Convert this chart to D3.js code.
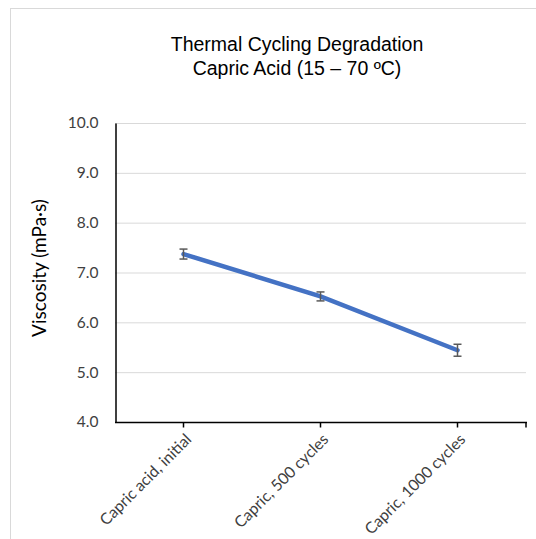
<!DOCTYPE html>
<html><head><meta charset="utf-8">
<script src="https://cdn.jsdelivr.net/npm/d3@7"></script>
<style>body{margin:0;background:#fff}svg{display:block}</style>
</head><body>
<script>
const categories = ["Capric acid, initial", "Capric, 500 cycles", "Capric, 1000 cycles"];
const viscosity = [7.37, 6.52, 5.44];
const errors = [0.10, 0.09, 0.12];
const yTicks = [4, 5, 6, 7, 8, 9, 10];
const titleLines = ["Thermal Cycling Degradation", "Capric Acid (15 \u2013 70 \u00baC)"];
const yLabel = "Viscosity (mPa\u00b7s)";

(function () {
const W = 536, H = 539;
const svg = d3.select("body").append("svg").attr("width", W).attr("height", H);
svg.append("rect").attr("x", 10.5).attr("y", 8.5).attr("width", W).attr("height", H)
  .attr("fill", "#fff").attr("stroke", "#d9d9d9").attr("stroke-width", 1);

const pLeft = 115, pRight = 526, pTop = 123, pBottom = 422;
const x = d3.scaleBand().domain(categories).range([pLeft, pRight]);
const y = d3.scaleLinear().domain([4, 10]).range([pBottom, pTop]);

// title
svg.append("text").attr("text-anchor", "middle")
  .attr("font-family", "Liberation Sans, Arial, sans-serif").attr("font-size", 19.5).attr("fill", "#000")
  .selectAll("tspan").data(titleLines).join("tspan")
  .attr("x", 297).attr("y", (d, i) => 51 + i * 24).text(d => d);

// gridlines
svg.append("g").selectAll("line").data(yTicks.filter(v => v > 4)).join("line")
  .attr("x1", pLeft).attr("x2", pRight).attr("y1", d => y(d) + 0.5).attr("y2", d => y(d) + 0.5)
  .attr("stroke", "#d9d9d9").attr("stroke-width", 1);

// y axis
const yAxis = d3.axisLeft(y).tickValues(yTicks).tickFormat(d3.format(".1f")).tickSize(0).tickPadding(17);
const gy = svg.append("g").attr("transform", `translate(${pLeft + 0.5},0)`).call(yAxis);
gy.select(".domain").attr("stroke", "#000").attr("stroke-width", 1.5);
gy.selectAll("text").attr("font-family", "Lato, Calibri, sans-serif").attr("font-size", 15.5).attr("fill", "#404040");

// x axis
const gx = svg.append("g").attr("transform", `translate(0,${pBottom + 0.5})`);
gx.append("line").attr("x1", pLeft).attr("x2", pRight + 1).attr("y1", 0).attr("y2", 0)
  .attr("stroke", "#000").attr("stroke-width", 1.5);
const tickXs = categories.map(c => x(c) + x.bandwidth() / 2).concat([pRight]);
gx.selectAll("line.tk").data(tickXs).join("line").attr("class", "tk")
  .attr("x1", d => d).attr("x2", d => d).attr("y1", 0).attr("y2", 5)
  .attr("stroke", "#000").attr("stroke-width", 1.5);
gx.selectAll("text").data(categories).join("text")
  .attr("transform", d => `translate(${x(d) + x.bandwidth() / 2 + 5},${14}) rotate(-45)`)
  .attr("text-anchor", "end").attr("dy", "0.35em")
  .attr("font-family", "Lato, Calibri, sans-serif").attr("font-size", 15.8).attr("fill", "#404040")
  .text(d => d);

// y label
svg.append("text").attr("transform", `translate(46,268) rotate(-90)`).attr("text-anchor", "middle")
  .attr("font-family", "Lato, Calibri, sans-serif").attr("font-size", 19).attr("fill", "#000").text(yLabel);

// line
const pts = categories.map((c, i) => ({ c, v: viscosity[i], e: errors[i] }));
svg.append("path").datum(pts)
  .attr("d", d3.line().x(d => x(d.c) + x.bandwidth() / 2).y(d => y(d.v)))
  .attr("fill", "none").attr("stroke", "#4472C4").attr("stroke-width", 4.5).attr("stroke-linecap", "round");

// error bars
const eb = svg.append("g").attr("stroke", "#595959").attr("stroke-width", 1.5);
pts.forEach(d => {
  const cx = x(d.c) + x.bandwidth() / 2;
  eb.append("line").attr("x1", cx).attr("x2", cx).attr("y1", y(d.v - d.e)).attr("y2", y(d.v + d.e));
  [d.v - d.e, d.v + d.e].forEach(v => eb.append("line").attr("x1", cx - 4).attr("x2", cx + 4).attr("y1", y(v)).attr("y2", y(v)));
});
})();
</script>
</body></html>
